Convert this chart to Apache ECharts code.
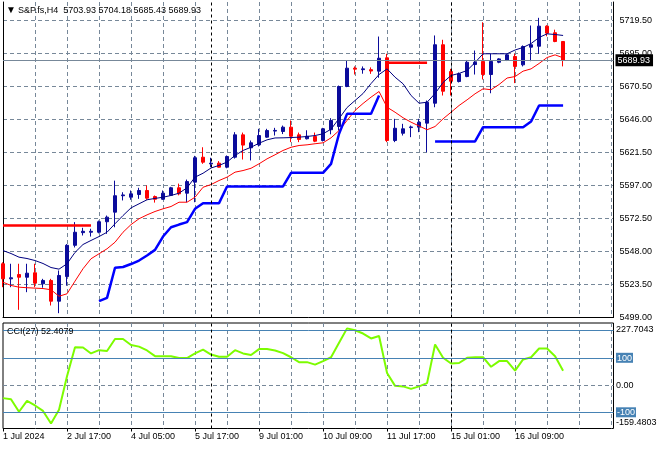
<!DOCTYPE html>
<html><head><meta charset="utf-8">
<script src="https://cdn.jsdelivr.net/npm/echarts@6/dist/echarts.min.js"></script>
<style>html,body{margin:0;padding:0;background:#fff}#c{width:660px;height:450px}</style>
</head><body><div id="c"></div>
<script>
const symbolName = 'S&P.fs,H4';
const timeLabels = ['1 Jul 2024','2 Jul 17:00','4 Jul 05:00','5 Jul 17:00','9 Jul 01:00','10 Jul 09:00','11 Jul 17:00','15 Jul 01:00','16 Jul 09:00'];
const labelEvery = 8;
const weekStarts = [26, 56];

const opens = [5538.9,5527.7,5530.9,5528.9,5532.2,5524.0,5526.5,5511.1,5529.4,5552.6,
5562.0,5562.3,5562.3,5570.1,5577.2,5589.4,5588.3,5590.3,5593.3,5588.8,
5586.8,5589.7,5595.3,5591.3,5599.5,5618.0,5613.0,5613.6,5610.6,5618.0,
5634.6,5625.0,5627.2,5632.9,5637.4,5637.1,5640.3,5634.6,5631.7,5633.4,
5630.4,5638.4,5640.8,5670.5,5684.1,5683.0,5683.0,5681.9,5691.8,5630.4,
5635.8,5640.0,5640.3,5643.3,5658.1,5701.5,5681.6,5674.2,5677.9,5686.8,
5689.1,5679.4,5688.5,5689.8,5692.8,5686.6,5699.7,5700.4,5715.3,5710.4,
5703.93];
const highs = [5540.0,5538.9,5538.9,5538.9,5538.9,5527.7,5527.7,5533.9,5553.5,5569.8,
5565.6,5564.9,5571.0,5574.7,5600.6,5592.0,5593.3,5595.3,5597.0,5589.6,
5593.3,5596.0,5598.4,5601.4,5619.0,5625.4,5617.6,5615.1,5619.3,5636.6,
5636.3,5630.4,5639.1,5639.1,5639.8,5641.5,5645.3,5636.3,5638.0,5636.3,
5639.8,5647.0,5671.2,5689.8,5685.4,5685.4,5684.7,5707.6,5694.8,5646.5,
5642.8,5641.5,5646.5,5660.1,5708.4,5705.2,5683.6,5680.9,5690.2,5697.2,
5718.2,5694.8,5691.5,5694.8,5694.8,5701.0,5715.8,5721.5,5716.0,5712.7,
5704.18];
const lows = [5521.5,5521.5,5504.7,5517.8,5521.5,5521.1,5507.9,5502.2,5522.6,5551.0,
5559.9,5559.1,5561.5,5561.1,5566.0,5585.9,5586.4,5587.1,5586.4,5584.3,
5586.4,5589.7,5589.7,5584.6,5584.6,5613.1,5610.6,5610.3,5609.8,5617.0,
5616.3,5615.6,5626.0,5632.4,5634.1,5635.2,5629.2,5629.2,5631.2,5629.2,
5629.7,5635.0,5637.8,5670.0,5679.4,5680.0,5679.9,5677.0,5629.2,5629.2,
5634.1,5632.9,5636.6,5621.7,5655.1,5663.8,5663.8,5673.5,5677.4,5679.4,
5675.7,5665.5,5687.8,5689.4,5673.0,5685.4,5689.3,5694.8,5707.8,5703.4,
5685.43];
const closes = [5527.7,5528.5,5528.9,5531.9,5524.5,5526.5,5511.1,5530.2,5552.6,5562.3,
5563.0,5563.0,5570.1,5573.5,5589.4,5590.0,5590.8,5593.3,5587.6,5586.8,
5591.3,5595.3,5590.8,5599.9,5617.6,5614.3,5613.6,5610.6,5618.5,5634.6,
5627.0,5628.7,5634.1,5637.8,5637.9,5640.3,5633.6,5631.2,5633.6,5629.9,
5639.1,5645.3,5670.5,5684.1,5683.4,5683.6,5682.0,5691.5,5630.4,5639.5,
5639.1,5640.5,5644.0,5658.8,5701.5,5667.0,5674.4,5679.9,5688.5,5688.5,
5679.4,5689.1,5691.0,5694.0,5685.4,5700.2,5701.5,5715.3,5710.1,5703.9,
5689.93];
const fastMA = [5548.7,5546.5,5543.8,5542.8,5541.3,5539.1,5536.1,5534.9,5538.9,5547.3,
5553.2,5556.2,5559.1,5562.3,5568.6,5574.7,5580.4,5583.4,5586.4,5587.4,
5588.3,5589.6,5591.3,5595.3,5603.2,5606.1,5610.0,5611.9,5614.4,5619.3,
5623.0,5625.4,5628.4,5630.9,5632.3,5632.4,5632.6,5632.9,5633.4,5634.1,
5635.4,5638.8,5646.7,5654.9,5660.1,5665.3,5672.7,5679.4,5683.6,5677.4,
5672.5,5663.8,5658.1,5658.8,5665.3,5673.5,5678.7,5680.2,5682.4,5688.3,
5694.8,5694.8,5694.8,5694.8,5697.6,5699.5,5702.4,5706.9,5709.6,5709.1,
5708.4];
const slowMA = [5525.2,5522.8,5521.5,5521.1,5520.8,5520.5,5519.6,5514.8,5516.6,5526.0,
5535.2,5542.6,5546.3,5550.0,5554.9,5562.3,5568.0,5572.3,5575.2,5577.7,
5579.7,5581.4,5584.6,5584.6,5588.3,5595.7,5597.7,5600.7,5603.2,5606.9,
5608.1,5609.8,5613.1,5616.8,5619.8,5623.0,5625.4,5626.7,5627.2,5628.0,
5628.7,5632.4,5637.8,5645.3,5652.7,5657.9,5662.6,5666.8,5655.1,5651.4,
5647.3,5644.0,5641.2,5638.4,5640.8,5646.5,5651.4,5656.4,5660.6,5665.1,
5668.8,5668.1,5672.0,5676.8,5677.9,5681.9,5683.6,5687.6,5692.0,5694.0,
5691.8];
const stopUp = [null,null,null,null,null,null,null,null,null,null,
null,null,5511.1,5513.6,5535.9,5536.5,5538.7,5541.3,5545.0,5549.2,
5559.1,5566.0,5568.0,5569.8,5579.7,5583.9,5583.9,5583.9,5596.3,5596.3,
5596.3,5596.3,5596.3,5596.3,5596.3,5596.3,5606.4,5606.4,5606.4,5606.4,
5606.4,5613.1,5635.4,5650.2,5650.2,5650.2,5650.2,5663.8,null,null,
null,null,null,null,5629.7,5629.7,5629.7,5629.7,5629.7,5629.7,
5640.3,5640.3,5640.3,5640.3,5640.3,5640.3,5644.5,5656.4,5656.4,5656.4,
5656.4];
const stopDown = [5567.3,5567.3,5567.3,5567.3,5567.3,5567.3,5567.3,5567.3,5567.3,5567.3,
5567.3,5567.3,null,null,null,null,null,null,null,null,
null,null,null,null,null,null,null,null,null,null,
null,null,null,null,null,null,null,null,null,null,
null,null,null,null,null,null,null,null,5688.1,5688.1,
5688.1,5688.1,5688.1,5688.1,null,null,null,null,null,null,
null,null,null,null,null,null,null,null,null,null,
null];
const cci = [-48,-52,-98,-58,-75,-95,-141,-91,32,139,
138,116,128,125,169,169,147,141,127,106,
106,106,99,99,116,130,112,104,104,128,
116,110,132,132,127,117,102,84,84,75,
88,102,155,208,201,189,171,180,44,-3,
-5,-14,-5,7,149,100,79,81,100,102,
102,67,88,88,53,94,102,134,134,106,
52.4079];
const cciLevels = [200, 100, -100];
const cciMin = -159.4803, cciMax = 227.7043;
const cciAxisValues = [200, 227.7043, 100, 0, -100, -159.4803];
const cciAxisLabels = ['200', '227.7043', '100', '0.00', '-100', '-159.4803'];
const cciAxisStyles = ['box', 'top', 'box', '', 'box', 'bot'];

const PRICE_MIN = 5499, PRICE_STEP = 24.5, PRICE_MAX = 5733.24;
const XMAX = 76.3;
const FONT = 'Liberation Sans, Arial, sans-serif';
const GRID_C = '#778899';
const BULL = '#0b0b9b', BEAR = '#ff0000';

const N = closes.length;
const candleData = closes.map((c, i) => [i, opens[i], c, lows[i], highs[i]]);
const toLine = arr => arr.map((v, i) => [i, v == null ? '-' : v]);
const labelBars = timeLabels.map((_, i) => i * labelEvery);
const dashGrid = {color: GRID_C, type: [4, 3], width: 1};
const sepLines = weekStarts.map(k => ({xAxis: k, lineStyle: {color: '#000', type: [3, 3], width: 1}, label: {show: false}}));
const txt = {fontSize: 9, fontFamily: FONT, color: '#000'};

const chart = echarts.init(document.getElementById('c'), null, {renderer: 'canvas'});
chart.setOption({
  animation: false,
  backgroundColor: '#fff',
  textStyle: {fontFamily: FONT},
  title: [
    {text: '{t|▼}' + symbolName + '  ' + [opens[N-1], highs[N-1], lows[N-1], closes[N-1]].map(v => v.toFixed(2)).join(' '),
     left: 6, top: 5, padding: 0,
     textStyle: Object.assign({fontWeight: 'normal', lineHeight: 11, rich: {t: {fontSize: 10, width: 12, color: '#000'}}}, txt)},
    {text: 'CCI(27) ' + cci[N-1].toFixed(4), left: 7, top: 326, padding: 0,
     textStyle: Object.assign({fontWeight: 'normal', lineHeight: 11}, txt)}
  ],
  grid: [
    {left: 3, top: 2, width: 610.5, height: 315.5},
    {left: 3, top: 323, width: 610.5, height: 105.5, show: true, borderColor: '#000', borderWidth: 1, backgroundColor: '#fff'}
  ],
  xAxis: [
    {gridIndex: 0, type: 'value', min: 0, max: XMAX, interval: 4,
     axisLine: {show: true, onZero: false, lineStyle: {color: '#000'}}, axisTick: {show: false}, axisLabel: {show: false},
     splitLine: {show: true, showMinLine: false, showMaxLine: false, lineStyle: dashGrid}},
    {gridIndex: 1, type: 'value', min: 0, max: XMAX, interval: 4,
     axisLine: {show: false, onZero: false}, axisTick: {show: false}, axisLabel: {show: false},
     splitLine: {show: true, showMinLine: false, showMaxLine: false, lineStyle: dashGrid}},
    {gridIndex: 1, type: 'value', min: 0, max: XMAX, position: 'bottom',
     axisLine: {show: false, onZero: false},
     axisTick: {show: true, customValues: labelBars, length: 3, lineStyle: {color: '#000'}},
     axisLabel: Object.assign({customValues: labelBars, formatter: v => timeLabels[Math.round(v / labelEvery)] || '', align: 'left', margin: 4}, txt),
     splitLine: {show: false}}
  ],
  yAxis: [
    {gridIndex: 0, type: 'value', position: 'right', min: PRICE_MIN, max: PRICE_MAX, interval: PRICE_STEP,
     axisLine: {show: true, onZero: false, lineStyle: {color: '#000'}}, axisTick: {show: false},
     axisLabel: Object.assign({formatter: v => v.toFixed(2), margin: 6, showMaxLabel: false}, txt),
     splitLine: {show: true, showMinLine: false, showMaxLine: false, lineStyle: dashGrid}},
    {gridIndex: 0, type: 'value', position: 'left', min: PRICE_MIN, max: PRICE_MAX,
     axisLine: {show: true, onZero: false, lineStyle: {color: '#000'}}, axisTick: {show: false}, axisLabel: {show: false}, splitLine: {show: false}},
    {gridIndex: 1, type: 'value', position: 'right', min: cciMin, max: cciMax,
     axisLine: {show: false, onZero: false}, axisTick: {show: false}, splitLine: {show: false},
     axisLabel: Object.assign({customValues: cciAxisValues, margin: 2.5,
       formatter: v => {
         const i = cciAxisValues.findIndex(x => Math.abs(x - v) < 1e-6);
         if (i < 0) return '';
         return cciAxisStyles[i] ? '{' + cciAxisStyles[i] + '|' + cciAxisLabels[i] + '}' : cciAxisLabels[i];
       },
       rich: {
         box: {backgroundColor: '#4682b4', color: '#fff', padding: [1, 1, 0, 1], fontSize: 9, fontFamily: FONT},
         top: {padding: [14, 0, 0, 0], fontSize: 9, color: '#000', fontFamily: FONT},
         bot: {padding: [0, 0, 12, 0], fontSize: 9, color: '#000', fontFamily: FONT}
       }}, txt)}
  ],
  series: [
    {type: 'candlestick', xAxisIndex: 0, yAxisIndex: 0, data: candleData, barWidth: 4, z: 2,
     itemStyle: {color: BULL, color0: BEAR, borderColor: BULL, borderColor0: BEAR, borderWidth: 1},
     markLine: {silent: true, symbol: 'none', animation: false, data: [
       {yAxis: closes[N-1], lineStyle: {color: GRID_C, type: 'solid', width: 1},
        label: {show: true, position: 'end', formatter: closes[N-1].toFixed(2), backgroundColor: '#000', color: '#fff',
                padding: [2, 3, 1, 2], distance: 2, fontSize: 9, fontFamily: FONT}}
     ].concat(sepLines)}},
    {type: 'line', xAxisIndex: 0, yAxisIndex: 0, data: toLine(fastMA), symbol: 'none', z: 3,
     lineStyle: {color: '#000080', width: 1}},
    {type: 'line', xAxisIndex: 0, yAxisIndex: 0, data: toLine(slowMA), symbol: 'none', z: 3,
     lineStyle: {color: '#ff0000', width: 1}},
    {type: 'line', xAxisIndex: 0, yAxisIndex: 0, data: toLine(stopUp), symbol: 'none', z: 3, connectNulls: false,
     lineStyle: {color: '#0000ff', width: 2.5}},
    {type: 'line', xAxisIndex: 0, yAxisIndex: 0, data: toLine(stopDown), symbol: 'none', z: 3, connectNulls: false,
     lineStyle: {color: '#ff0000', width: 2.5}},
    {type: 'line', xAxisIndex: 1, yAxisIndex: 2, data: toLine(cci), symbol: 'none', z: 3,
     lineStyle: {color: '#7cfc00', width: 2},
     markLine: {silent: true, symbol: 'none', animation: false, data:
       cciLevels.map(v => ({yAxis: v, lineStyle: {color: '#4682b4', type: 'solid', width: 1}, label: {show: false}}))
       .concat([{yAxis: 0, lineStyle: dashGrid, label: {show: false}}])
       .concat(sepLines)}}
  ]
});
</script>
</body></html>
